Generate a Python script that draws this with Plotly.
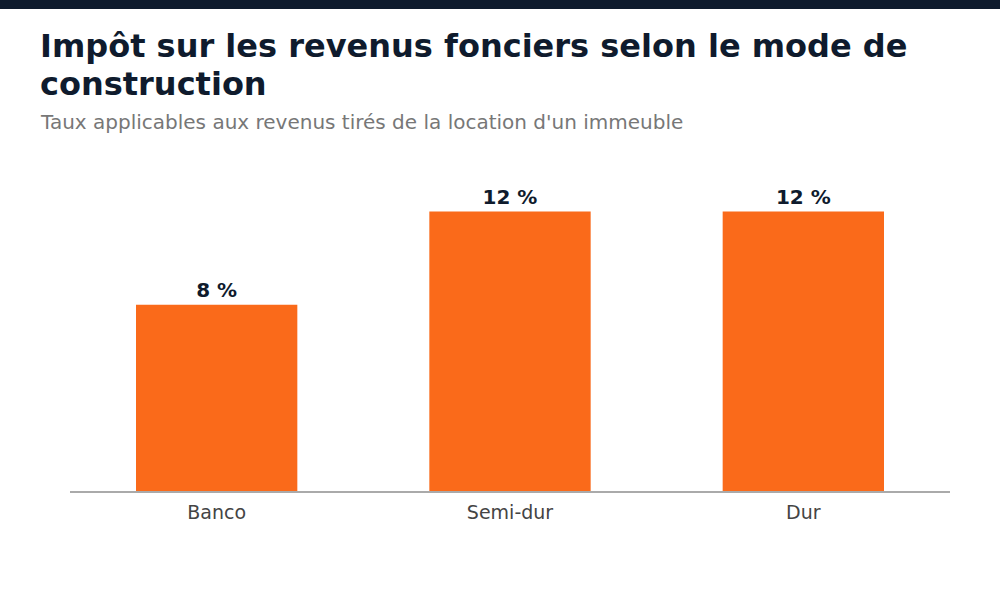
import plotly.graph_objects as go

# data
categories = ["Banco", "Semi-dur", "Dur"]
rates = [8, 12, 12]
title_lines = ["Impôt sur les revenus fonciers selon le mode de", "construction"]
subtitle = "Taux applicables aux revenus tirés de la location d'un immeuble"

NAVY = "#0f1b2d"
ORANGE = "#fa6a1a"

fig = go.Figure()

fig.add_trace(
    go.Bar(
        x=categories,
        y=rates,
        marker_color=ORANGE,
        marker_line_width=0,
        text=[f"{r} %" for r in rates],
        textposition="outside",
        textfont=dict(family="DejaVu Sans", size=20, color=NAVY, weight="bold"),
        cliponaxis=False,
        showlegend=False,
        hoverinfo="skip",
    )
)

fig.update_layout(
    width=1000,
    height=600,
    margin=dict(l=70, r=50, t=165, b=109),
    plot_bgcolor="white",
    paper_bgcolor="white",
    bargap=0.45,
    font=dict(family="DejaVu Sans", color="#444444"),
)

fig.update_xaxes(
    showline=True,
    linecolor="#aaaaaa",
    linewidth=2,
    tickfont=dict(size=19, color="#444444"),
    ticks="",
    ticklabelstandoff=3,
)
fig.update_yaxes(range=[0, 14], visible=False, showgrid=False)

# dark band at the top
fig.add_shape(
    type="rect", xref="paper", yref="paper",
    x0=-70 / 880, x1=1 + 50 / 880, y0=1 + 156 / 326, y1=1 + 166 / 326,
    fillcolor=NAVY, line_width=0, layer="above",
)

# title on two lines, 38 px apart
for i, line in enumerate(title_lines):
    fig.add_annotation(
        text=f"<b>{line}</b>",
        xref="paper", yref="paper", x=-32 / 880, y=1 + (140 - 38 * i) / 326,
        xanchor="left", yanchor="top", align="left", showarrow=False,
        font=dict(family="DejaVu Sans", size=32, color=NAVY),
    )
fig.add_annotation(
    text=subtitle,
    xref="paper", yref="paper", x=-32 / 880, y=1 + 57 / 326,
    xanchor="left", yanchor="top", align="left", showarrow=False,
    font=dict(family="DejaVu Sans", size=20, color="#777777"),
)

fig.write_html(
    "out.html",
    config={"displayModeBar": False},
    post_script="document.body.style.margin='0';",
)
